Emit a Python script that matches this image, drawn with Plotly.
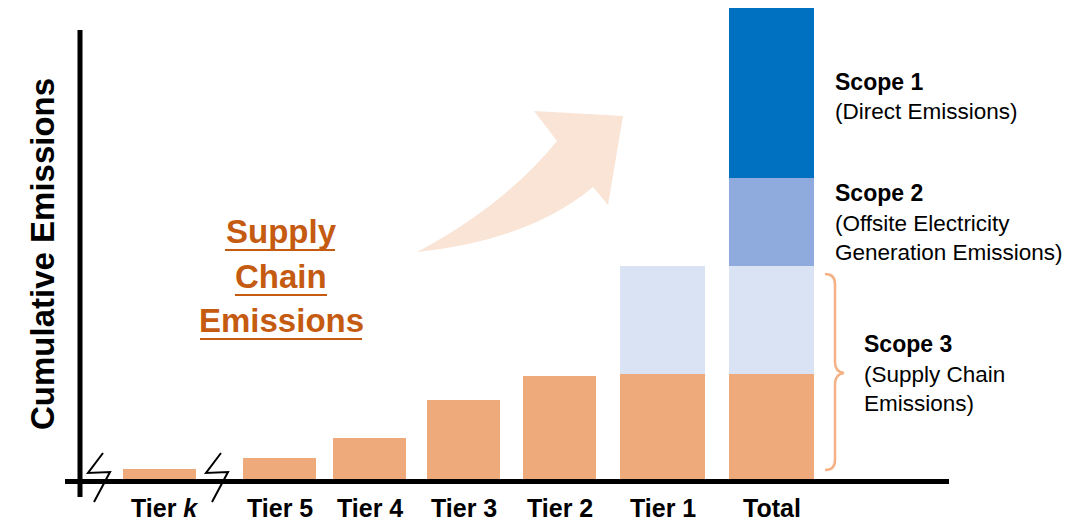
import plotly.graph_objects as go

# ---- data -------------------------------------------------------------
categories = ["Tier <i>k</i>", "Tier 5", "Tier 4", "Tier 3", "Tier 2", "Tier 1", "Total"]
supply_chain = [12, 23, 43, 81, 105, 107, 107]          # own-tier supply chain emissions
upstream = [None, None, None, None, None, 108, 108]    # accumulated upstream tiers
scope2 = [None, None, None, None, None, None, 88]      # offsite electricity generation
scope1 = [None, None, None, None, None, None, 170]     # direct emissions

# ---- layout helpers ---------------------------------------------------
W, H = 1076, 522
BASE = 481                      # pixel row of the zero line
bar_x = [159.5, 279.5, 369.5, 463.5, 559.5, 662.5, 771.5]
bar_w = [73, 73, 73, 73, 73, 85, 85]

ORANGE = "#EEAA7B"
LIGHT_BLUE = "#DAE3F3"
MID_BLUE = "#8FAADC"
DARK_BLUE = "#0070C0"
TEXT_ORANGE = "#C55A11"
BRACE = "#F4B183"
ARROW = "#F9E4D6"
FONT = "Liberation Sans"


def P(xp, yp):
    """pixel position -> data coordinate string for SVG paths"""
    return f"{xp},{BASE - yp}"


def Y(yp):
    return BASE - yp


fig = go.Figure()

for vals, color in [(supply_chain, ORANGE), (upstream, LIGHT_BLUE),
                    (scope2, MID_BLUE), (scope1, DARK_BLUE)]:
    fig.add_trace(go.Bar(
        x=bar_x, y=vals, width=bar_w,
        marker=dict(color=color, line=dict(width=0)),
        hoverinfo="skip", showlegend=False,
    ))

shapes = []

# curved growth arrow
arrow_path = ("M " + P(417, 252) + " Q " + P(505, 205) + " " + P(557, 141)
              + " L " + P(534, 111) + " L " + P(623, 116) + " L " + P(608, 205)
              + " L " + P(593, 187) + " Q " + P(530, 240) + " " + P(417, 252) + " Z")
shapes.append(dict(type="path", path=arrow_path, xref="x", yref="y",
                   fillcolor=ARROW, line=dict(width=0), layer="below"))

# axes
shapes.append(dict(type="line", xref="x", yref="y", x0=80, x1=80, y0=Y(30), y1=Y(497),
                   line=dict(color="black", width=5)))
shapes.append(dict(type="line", xref="x", yref="y", x0=65, x1=949, y0=Y(481.5), y1=Y(481.5),
                   line=dict(color="black", width=5)))

# axis-break marks
for dx in (0, 118):
    zz = ("M " + P(103 + dx, 453) + " L " + P(88 + dx, 473) + " L " + P(110 + dx, 472)
          + " L " + P(94 + dx, 502))
    shapes.append(dict(type="path", path=zz, xref="x", yref="y",
                       line=dict(color="black", width=2)))

# brace for Scope 3
brace = ("M " + P(825, 274) + " Q " + P(835, 274) + " " + P(835, 284)
         + " L " + P(835, 362) + " Q " + P(835, 372) + " " + P(844, 373)
         + " Q " + P(835, 374) + " " + P(835, 384)
         + " L " + P(835, 460) + " Q " + P(835, 470) + " " + P(825, 470))
shapes.append(dict(type="path", path=brace, xref="x", yref="y",
                   line=dict(color=BRACE, width=2.5)))

# underlines for the supply chain caption
for x0, x1, yp in [(225, 335, 250), (235, 327, 295), (200, 362, 339)]:
    shapes.append(dict(type="line", xref="x", yref="y", x0=x0, x1=x1, y0=Y(yp), y1=Y(yp),
                       line=dict(color=TEXT_ORANGE, width=2)))

annotations = []

# category labels
for cx, lab in zip(bar_x, categories):
    annotations.append(dict(x=cx + (5 if "k" in lab else 0), y=Y(508), text=lab, showarrow=False,
                            xanchor="center", yanchor="middle",
                            font=dict(family=FONT, size=25, color="black", weight="bold")))

# y-axis title
annotations.append(dict(x=42, y=Y(254), text="<b>Cumulative Emissions</b>", textangle=-90,
                        showarrow=False, xanchor="center", yanchor="middle",
                        font=dict(family=FONT, size=33, color="black")))

# caption
for word, yp in [("Supply", 231), ("Chain", 276), ("Emissions", 320)]:
    annotations.append(dict(x=281, y=Y(yp), text=f"<b>{word}</b>", showarrow=False,
                            xanchor="center", yanchor="middle",
                            font=dict(family=FONT, size=33, color=TEXT_ORANGE)))

# scope labels
scope_text = [
    (833, 82, "<b>Scope 1</b>", 23),
    (833, 111, "(Direct Emissions)", 22.5),
    (833, 193, "<b>Scope 2</b>", 23),
    (833, 223, "(Offsite Electricity", 22.5),
    (833, 252, "Generation Emissions)", 22.5),
    (862, 344, "<b>Scope 3</b>", 23),
    (862, 374, "(Supply Chain", 22.5),
    (862, 403, "Emissions)", 22.5),
]
for xp, yp, txt, sz in scope_text:
    annotations.append(dict(x=xp, y=Y(yp), text=txt, showarrow=False,
                            xanchor="left", yanchor="middle",
                            font=dict(family=FONT, size=sz, color="black")))

fig.update_layout(
    width=W, height=H,
    margin=dict(l=0, r=0, t=0, b=0),
    paper_bgcolor="white", plot_bgcolor="white",
    barmode="stack", bargap=0,
    xaxis=dict(range=[0, W], visible=False, fixedrange=True),
    yaxis=dict(range=[BASE - H, BASE], visible=False, fixedrange=True),
    shapes=shapes, annotations=annotations,
)

fig.write_html("out.html", config={"displayModeBar": False})
